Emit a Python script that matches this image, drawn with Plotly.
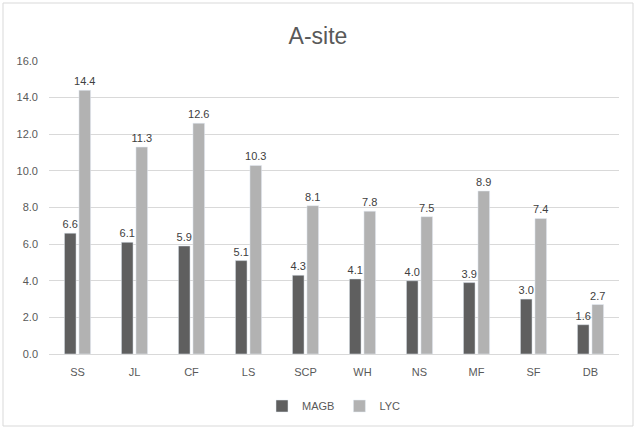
import plotly.graph_objects as go

categories = ["SS", "JL", "CF", "LS", "SCP", "WH", "NS", "MF", "SF", "DB"]
magb = [6.6, 6.1, 5.9, 5.1, 4.3, 4.1, 4.0, 3.9, 3.0, 1.6]
lyc = [14.4, 11.3, 12.6, 10.3, 8.1, 7.8, 7.5, 8.9, 7.4, 2.7]
y_ticks = [0, 2, 4, 6, 8, 10, 12, 14, 16]

W, H = 636, 429
L, R, T, B = 49, 17, 61, 75
pw, ph = W - L - R, H - T - B

font = "Liberation Sans, Arial, sans-serif"

fig = go.Figure()
fig.add_trace(go.Bar(
    name="MAGB", x=categories, y=magb, marker_color="#5f5f5f",
    text=[f"{v:.1f}" for v in magb], textposition="outside",
    textfont=dict(size=11, color="#404040", family=font), cliponaxis=False,
))
fig.add_trace(go.Bar(
    name="LYC", x=categories, y=lyc, marker_color="#b2b2b2",
    text=[f"{v:.1f}" for v in lyc], textposition="outside",
    textfont=dict(size=11, color="#404040", family=font), cliponaxis=False,
))

fig.update_layout(
    width=W, height=H,
    margin=dict(l=L, r=R, t=T, b=B, autoexpand=False),
    paper_bgcolor="white", plot_bgcolor="white",
    barmode="group", bargap=0.49, bargroupgap=0.2,
    uniformtext=dict(minsize=11, mode="show"),
    title=dict(text="A-site", x=0.5, xanchor="center", y=1 - 36 / H, yanchor="middle",
               font=dict(size=23, color="#595959", family=font)),
    font=dict(family=font, color="#595959", size=11),
    showlegend=True,
    legend=dict(orientation="h", x=0.5, xanchor="center", y=-(406 - 354) / ph, yanchor="middle",
                font=dict(size=11, color="#595959"), itemwidth=30, traceorder="normal"),
    xaxis=dict(showgrid=False, showline=False, ticks="", ticklabelstandoff=10,
               tickfont=dict(size=11, color="#595959")),
    yaxis=dict(range=[0, 16], tickvals=y_ticks, ticktext=[f"{v:.1f}" for v in y_ticks],
               showgrid=True, gridcolor="#d9d9d9", gridwidth=1, zeroline=True,
               zerolinecolor="#d9d9d9", zerolinewidth=1, showline=False, ticks="",
               ticklabelstandoff=10, tickfont=dict(size=11, color="#595959")),
)

fig.add_shape(type="rect", xref="paper", yref="paper",
              x0=(3 - L) / pw, x1=(633 - L) / pw,
              y0=(H - B - 426) / ph, y1=(H - B - 3) / ph,
              line=dict(color="#d9d9d9", width=1), fillcolor="rgba(0,0,0,0)", layer="below")

fig.write_html("out.html", config={"displayModeBar": False},
               post_script="document.body.style.margin='0';document.body.style.overflow='hidden';")
